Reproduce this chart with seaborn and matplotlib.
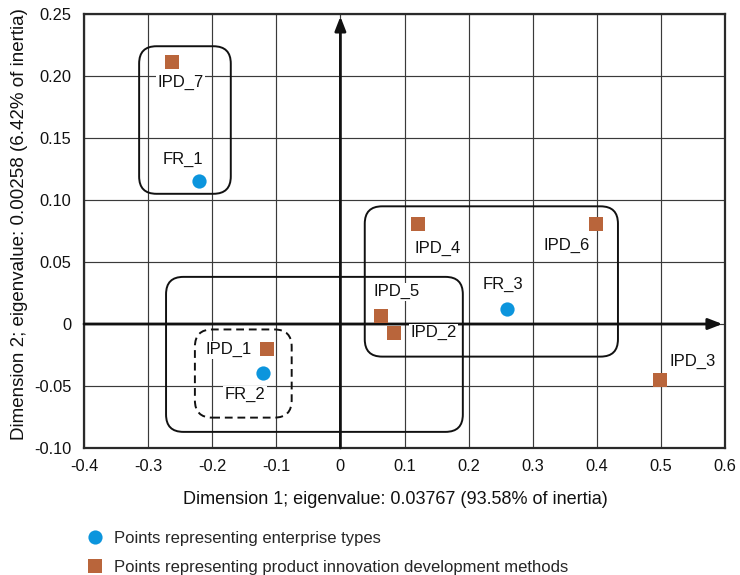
import matplotlib
matplotlib.use("Agg")
import matplotlib.pyplot as plt
from matplotlib.patches import FancyBboxPatch
from matplotlib.lines import Line2D
import seaborn as sns
import pandas as pd

# Correspondence analysis coordinates
labels = ["FR_1", "FR_2", "FR_3",
          "IPD_1", "IPD_2", "IPD_3", "IPD_4", "IPD_5", "IPD_6", "IPD_7"]
dim1 = [-0.221, -0.121, 0.260,
        -0.115, 0.084, 0.499, 0.121, 0.063, 0.399, -0.263]
dim2 = [0.115, -0.0392, 0.0117,
        -0.0198, -0.0069, -0.0448, 0.081, 0.0061, 0.081, 0.211]
kinds = ["Points representing enterprise types"] * 3 + \
        ["Points representing product innovation development methods"] * 7

# label offsets (data units) relative to each point
label_dx = [-0.025, -0.028, -0.006, -0.059, 0.061, 0.051, 0.030, 0.025, -0.046, 0.013]
label_dy = [0.018, -0.018, 0.020, -0.001, 0.000, 0.015, -0.020, 0.020, -0.018, -0.016]

xticks = [-0.4, -0.3, -0.2, -0.1, 0, 0.1, 0.2, 0.3, 0.4, 0.5, 0.6]
yticks = [-0.10, -0.05, 0, 0.05, 0.10, 0.15, 0.20, 0.25]
xticklabels = ["-0.4", "-0.3", "-0.2", "-0.1", "0", "0.1", "0.2", "0.3", "0.4", "0.5", "0.6"]
yticklabels = ["-0.10", "-0.05", "0", "0.05", "0.10", "0.15", "0.20", "0.25"]

# grouping boxes: (x0, y0, x1, y1, linestyle)
groups = [(-0.314, 0.105, -0.171, 0.224, "-"),
          (-0.272, -0.087, 0.191, 0.038, "-"),
          (0.038, -0.0263, 0.433, 0.0949, "-"),
          (-0.227, -0.0755, -0.076, -0.0044, (0, (4, 2.5)))]

df = pd.DataFrame({"label": labels, "dim1": dim1, "dim2": dim2, "kind": kinds})

sns.set_style("white")
plt.rcParams["font.family"] = ["Liberation Sans", "DejaVu Sans"]

blue = "#0C95DD"
brown = "#B9653B"
palette = {kinds[0]: blue, kinds[-1]: brown}
markers = {kinds[0]: "o", kinds[-1]: "s"}

fig = plt.figure(figsize=(7.4, 5.75), dpi=100)
L, R, T, B = 84, 725, 14, 448
ax = fig.add_axes([L / 740, 1 - B / 575, (R - L) / 740, (B - T) / 575])

sizes = {kinds[0]: 105, kinds[-1]: 110}
for k in [kinds[0], kinds[-1]]:
    sub = df[df["kind"] == k]
    sns.scatterplot(data=sub, x="dim1", y="dim2", color=palette[k], marker=markers[k],
                    s=sizes[k], linewidth=0, ax=ax, zorder=5, legend=False)

ax.set_xlim(-0.4, 0.6)
ax.set_ylim(-0.10, 0.25)
ax.set_xticks(xticks)
ax.set_xticklabels(xticklabels)
ax.set_yticks(yticks)
ax.set_yticklabels(yticklabels)
ax.tick_params(axis="both", length=0, labelsize=11.8, colors="#111111")
ax.tick_params(axis="x", pad=8)
ax.tick_params(axis="y", pad=9)
ax.grid(True, color="#3a3a3a", linewidth=0.85, zorder=0)
ax.set_axisbelow(True)
for sp in ax.spines.values():
    sp.set_color("#2a2a2a")
    sp.set_linewidth(1.6)

ax.set_xlabel("Dimension 1; eigenvalue: 0.03767 (93.58% of inertia)", fontsize=13, color="#111111")
ax.set_ylabel("Dimension 2; eigenvalue: 0.00258 (6.42% of inertia)", fontsize=13.5, color="#111111")
ax.xaxis.set_label_coords(0.485, -0.1)
ax.yaxis.set_label_coords(-0.087, 0.515)

# axes through the origin
arrow = dict(arrowstyle="-|>,head_length=0.85,head_width=0.33", color="#111111", lw=2.0,
             shrinkA=0, shrinkB=0)
ax.annotate("", xy=(0.596, 0), xytext=(-0.4, 0), arrowprops=arrow, zorder=3)
ax.annotate("", xy=(0, 0.248), xytext=(0, -0.10), arrowprops=arrow, zorder=3)

# rounded group outlines (aspect-corrected corners)
aspect = (0.35 / (B - T)) / (1.0 / (R - L))
for x0, y0, x1, y1, ls in groups:
    box = FancyBboxPatch((x0, y0), x1 - x0, y1 - y0,
                         boxstyle="round,pad=0,rounding_size=0.027",
                         mutation_aspect=aspect, facecolor="none",
                         edgecolor="#111111", linewidth=1.4, linestyle=ls, zorder=4)
    ax.add_patch(box)

for lab, x, y, dx, dy in zip(labels, dim1, dim2, label_dx, label_dy):
    ax.text(x + dx, y + dy, lab, fontsize=12, ha="center", va="center", color="#111111",
            zorder=6, bbox=dict(facecolor="white", edgecolor="none", pad=1.0))

handles = [Line2D([], [], marker="o", color="none", markerfacecolor=blue, markeredgewidth=0,
                  markersize=10.2, label=kinds[0]),
           Line2D([], [], marker="s", color="none", markerfacecolor=brown, markeredgewidth=0,
                  markersize=10.2, label=kinds[-1])]
fig.legend(handles=handles, loc="upper left", bbox_to_anchor=(80 / 740, 1 - 524 / 575),
           frameon=False, fontsize=12, handlelength=1.0, handletextpad=0.65,
           labelspacing=0.85, borderaxespad=0)

fig.savefig("out.png", dpi=100, facecolor="white")
